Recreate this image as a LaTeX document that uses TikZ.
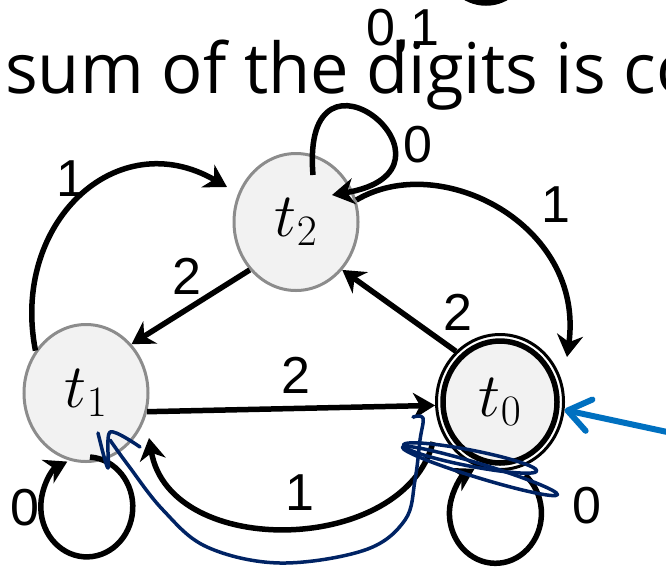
\RequirePackage{fix-cm}
\documentclass[tikz,border=0pt]{standalone}
\usepackage{fontspec}
\newfontfamily\slidefont{Open Sans}
\newfontfamily\labelfont{Liberation Sans}
\usetikzlibrary{shapes.geometric,arrows.meta,calc}
\definecolor{statefill}{RGB}{242,242,242}
\definecolor{stategray}{RGB}{140,140,140}
\definecolor{inkblue}{RGB}{0,35,100}
\definecolor{startblue}{RGB}{0,112,192}

\begin{document}
\begin{tikzpicture}[x=1pt,y=1pt,
  state/.style={ellipse, draw=stategray, line width=3pt, fill=statefill,
    minimum width=124pt, minimum height=137pt, inner sep=0pt,
    font=\fontsize{62}{62}\selectfont},
  trans/.style={line width=5.5pt, -{Stealth[length=22pt,width=26pt,inset=7pt]}},
  lbl/.style={anchor=base, inner sep=0pt, font=\labelfont\fontsize{52}{52}\selectfont},
  ink/.style={inkblue, line width=3.5pt, line cap=round, line join=round}]

% Frame
\useasboundingbox (0,0) rectangle (666,-571);
\clip (0,0) rectangle (666,-571);

% Slide text behind the automaton
\node[anchor=base west, inner sep=0pt, xscale=0.98,
  font=\slidefont\fontsize{70}{70}\selectfont]
  (heading) at (5,-93) {sum of the digits is co};

% States
\node[state] (t2) at (296,-222) {$t_2$};
\node[state] (t1) at (86,-393) {$t_1$};
\node[state, draw=black, line width=5.5pt, minimum width=114pt,
  minimum height=122pt, outer sep=8pt] (t0) at (500,-402) {$t_0$};
\draw[line width=3pt] (t0.center) ellipse [x radius=63.5, y radius=67.5];

% Transitions
\draw[trans] (t1.-17) -- (t0.183);
\draw[trans] (t0.131) -- (t2.-46);
\draw[trans] (t2.226) -- (t1.47);
\draw[trans] (t1.140) .. controls +(-25,127) and +(-111,64) .. ($(t2)+(-69,35)$);
\draw[trans] (t2.20) .. controls +(84,50) and +(18,132) .. ($(t0)+(67,45)$);
\draw[trans] ($(t0)+(-67,-40)$) .. controls +(-28,-113) and +(21,-122) .. ($(t1)+(63,-45)$);

% Self loops
\draw[trans] ($(t2)+(17,47)$) .. controls +(-13,155) and +(148,25) .. ($(t2)+(36,27)$);
\draw[trans] ($(t1)+(4,-64)$) arc [start angle=86, end angle=-245, x radius=46, y radius=50];
\draw[trans] ($(t0)+(25,-73)$) arc [start angle=50, end angle=-243, x radius=46, y radius=50];

% Loop of a state cut off above
\draw[line width=5.5pt] (486,38) circle [radius=41];

% Labels
\foreach \name/\x/\y/\txt in {
  lab01/403/45/{0,1}, lab0t/418/162/0, lab1l/71/196/1, lab2l/187/294/2,
  lab1r/556/222/1, lab2r/458/330/2, lab2m/296/393/2, lab1b/300/510/1,
  lab0l/25/525/0, lab0r/587/523/0
} {
  \node[lbl] (\name) at (\x,-\y) {\txt};
}

% Start arrow
\coordinate (entry) at (672,-433);
\draw[startblue, line width=6pt, line cap=round,
  -{Straight Barb[length=22pt,width=32pt,line cap=round,line join=round]}] (entry) -- (t0.-7);

% Ink scribble
\draw[ink] plot[smooth, tension=0.6] coordinates {(413,-417) (423,-418) (420,-440)
  (415,-480) (405,-520) (365,-550) (280,-563) (207,-547) (163,-510) (128,-465) (110,-440)};
\draw[ink] plot[smooth, tension=0.5] coordinates {(98,-433) (108,-468) (110,-432) (140,-447)};
\draw[ink, rotate around={-11:(470,-458)}] (470,-458) ellipse [x radius=68, y radius=8];
\draw[ink, rotate around={-17:(480,-471)}] (480,-471) ellipse [x radius=81, y radius=7];

\end{tikzpicture}
\end{document}
